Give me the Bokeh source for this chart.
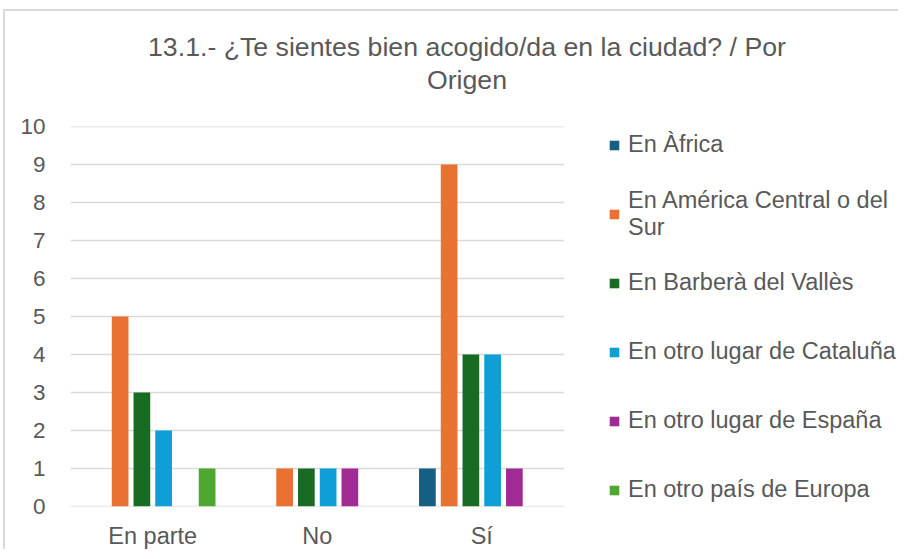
from bokeh.plotting import figure
from bokeh.models import ColumnDataSource, Range1d, FixedTicker, Legend, LegendItem, Label
from bokeh.transform import dodge
from bokeh.embed import file_html
from bokeh.resources import INLINE

categories = ["En parte", "No", "Sí"]
series_names = [
    "En Àfrica",
    "En América Central o del\nSur",
    "En Barberà del Vallès",
    "En otro lugar de Cataluña",
    "En otro lugar de España",
    "En otro país de Europa",
]
africa = [0, 0, 1]
america = [5, 1, 9]
barbera = [3, 1, 4]
cataluna = [2, 1, 4]
espana = [0, 1, 1]
europa = [1, 0, 0]
series_values = [africa, america, barbera, cataluna, espana, europa]
colors = ["#156082", "#E97132", "#196B24", "#0F9ED5", "#A02B93", "#4EA72E"]
y_ticks = list(range(0, 11))
title_text = "13.1.- ¿Te sientes bien acogido/da en la ciudad? / Por\nOrigen"

FONT = "Liberation Sans"
TXT = "#595959"

W, H = 895, 540
ML, MT, MB = 65, 115, 32
cat_px = 164.5
n = len(categories)
frame_w = W - ML
x_start = -0.5
x_end = x_start + frame_w / cat_px

p = figure(
    x_range=Range1d(x_start, x_end),
    y_range=Range1d(0, 10),
    width=W, height=H,
    output_backend="svg", toolbar_location=None,
    min_border_left=ML, min_border_right=0, min_border_top=MT, min_border_bottom=MB,
    styles={"margin-left": "3px", "margin-top": "9px",
            "border-top": "2px solid #D9D9D9", "border-left": "2px solid #D9D9D9"},
)
p.outline_line_color = None
p.background_fill_color = "white"
p.border_fill_color = "white"
p.xgrid.grid_line_color = None
p.ygrid.grid_line_color = None

# horizontal gridlines limited to the category area
p.segment(x0=[x_start] * len(y_ticks), x1=[n - 0.5] * len(y_ticks), y0=y_ticks, y1=y_ticks,
          line_color="#D9D9D9", line_width=1.5)

source = ColumnDataSource(dict(x=list(range(n)), **{f"s{i}": v for i, v in enumerate(series_values)}))

pitch = 0.1322
bw = 0.1015
items = []
for i, name in enumerate(series_names):
    r = p.vbar(x=dodge("x", (i - 2.5) * pitch), top=f"s{i}", bottom=0,
               width=bw, source=source, fill_color=colors[i], line_color=None)
    items.append(LegendItem(label=name, renderers=[r]))

legend = Legend(items=items, location=(538, -10.5))
legend.padding = 0
legend.margin = 0
legend.spacing = 15
legend.glyph_width = 12
legend.glyph_height = 12
legend.label_height = 54
legend.label_standoff = 8
legend.label_text_font = FONT
legend.label_text_font_size = "23.5px"
legend.label_text_line_height = 1.15
legend.label_text_color = TXT
legend.border_line_color = None
legend.background_fill_alpha = 0
p.add_layout(legend, "center")

p.yaxis.ticker = FixedTicker(ticks=y_ticks)
p.yaxis.axis_line_color = None
p.yaxis.major_tick_line_color = None
p.yaxis.minor_tick_line_color = None
p.yaxis.major_label_text_font = FONT
p.yaxis.major_label_text_font_size = "22.5px"
p.yaxis.major_label_text_color = TXT
p.yaxis.major_label_standoff = 19

p.xaxis.ticker = FixedTicker(ticks=list(range(n)))
p.xaxis.major_label_overrides = {i: c for i, c in enumerate(categories)}
p.xaxis.axis_line_color = None
p.xaxis.major_tick_line_color = None
p.xaxis.minor_tick_line_color = None
p.xaxis.major_label_text_font = FONT
p.xaxis.major_label_text_font_size = "23.5px"
p.xaxis.major_label_text_color = TXT
p.xaxis.major_label_standoff = 10

title = Label(x=396.5, y=63, x_units="screen", y_units="screen", text=title_text,
              text_align="center", text_baseline="middle", text_font=FONT,
              text_font_size="26.7px", text_line_height=1.07, text_color=TXT)
p.add_layout(title, "above")

open("out.html", "w").write(file_html(p, INLINE))
